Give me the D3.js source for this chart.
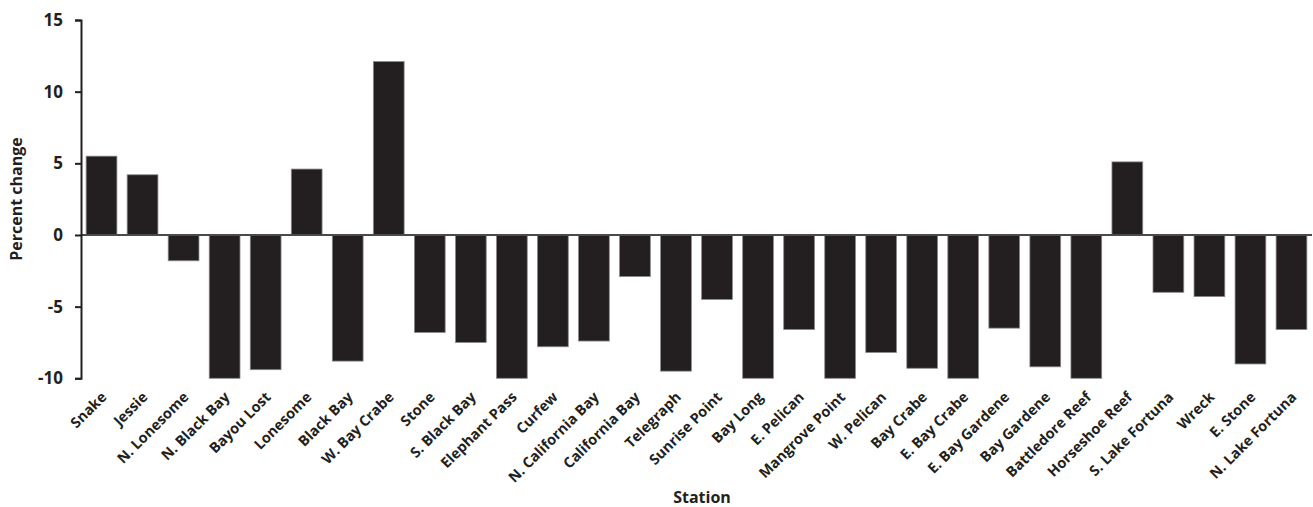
<!DOCTYPE html>
<html><head><meta charset="utf-8">
<script src="https://cdn.jsdelivr.net/npm/d3@7"></script>
<style>body{margin:0;background:#fff}svg{display:block}text{font-family:"Open Sans",Lato,sans-serif;font-weight:700;fill:#231f20}</style>
</head><body><svg id="c" width="1313" height="507"></svg>
<script>
const stations = ["Snake","Jessie","N. Lonesome","N. Black Bay","Bayou Lost","Lonesome","Black Bay","W. Bay Crabe","Stone","S. Black Bay","Elephant Pass","Curfew","N. California Bay","California Bay","Telegraph","Sunrise Point","Bay Long","E. Pelican","Mangrove Point","W. Pelican","Bay Crabe","E. Bay Crabe","E. Bay Gardene","Bay Gardene","Battledore Reef","Horseshoe Reef","S. Lake Fortuna","Wreck","E. Stone","N. Lake Fortuna"];
const percentChange = [5.5,4.2,-1.8,-10,-9.4,4.6,-8.8,12.1,-6.8,-7.5,-10,-7.8,-7.4,-2.9,-9.5,-4.5,-10,-6.6,-10,-8.2,-9.3,-10,-6.5,-9.2,-10,5.1,-4.0,-4.3,-9.0,-6.6];
const yTicks = [-10,-5,0,5,10,15];

const svg = d3.select("#c");
const x = d3.scaleBand().domain(stations).range([81,1312]).paddingInner(0.25).paddingOuter(0.125);
const y = d3.scaleLinear().domain([-10,15]).range([378.3,20]);

svg.append("g").selectAll("rect").data(stations).join("rect")
  .attr("x", d => x(d))
  .attr("width", x.bandwidth())
  .attr("y", (d,i) => y(Math.max(0, percentChange[i])))
  .attr("height", (d,i) => Math.abs(y(percentChange[i]) - y(0)))
  .attr("fill", "#231f20").attr("stroke", "#8a8a8a").attr("stroke-width", 0.8);

// zero line
svg.append("line").attr("x1", 81).attr("x2", 1312).attr("y1", y(0)).attr("y2", y(0))
  .attr("stroke", "#4a4a4a").attr("stroke-width", 2);

// y axis
const ya = svg.append("g").attr("transform", "translate(81,0)")
  .call(d3.axisLeft(y).tickValues(yTicks).tickSize(6).tickPadding(12).tickFormat(d => String(d)));
ya.select(".domain").attr("stroke", "#231f20").attr("stroke-width", 2);
ya.selectAll(".tick line").attr("stroke", "#231f20").attr("stroke-width", 2);
ya.selectAll(".tick text").style("font-size", "17px").style("fill", "#231f20").style("font-family", "'Open Sans'");

// x labels
svg.append("g").selectAll("text").data(stations).join("text")
  .attr("transform", d => `translate(${x(d) + x.bandwidth()/2 + 6},398) rotate(-45)`)
  .attr("text-anchor", "end")
  .style("font-size", "14.5px")
  .text(d => d);

svg.append("text").attr("transform", "translate(22,199) rotate(-90)")
  .attr("text-anchor", "middle").style("font-size", "16px").text("Percent change");
svg.append("text").attr("x", 702).attr("y", 503)
  .attr("text-anchor", "middle").style("font-size", "16px").text("Station");
</script></body></html>
